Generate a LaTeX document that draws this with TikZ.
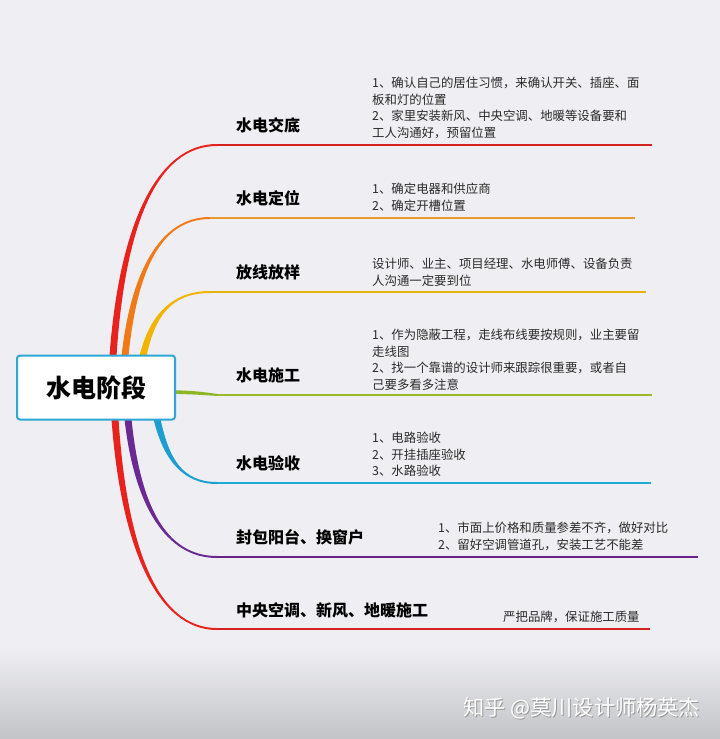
\documentclass[tikz,border=0pt]{standalone}
\usepackage{fontspec}
\setmainfont{Noto Sans CJK SC}
\usetikzlibrary{calc}
\definecolor{bg}{HTML}{EFEFF3}
\definecolor{botgray}{HTML}{C3C4C8}
\definecolor{boxc}{HTML}{2EA6D6}
\definecolor{cred}{HTML}{E8231E}
\definecolor{credl}{HTML}{D42020}
\definecolor{corange}{HTML}{F07A18}
\definecolor{corangel}{HTML}{E89A2A}
\definecolor{cyellow}{HTML}{F2B400}
\definecolor{cyellowl}{HTML}{E6B210}
\definecolor{cgreen}{HTML}{8DB722}
\definecolor{cgreenl}{HTML}{9CB92A}
\definecolor{cblue}{HTML}{1C9FD0}
\definecolor{cbluel}{HTML}{20AAD6}
\definecolor{cpurple}{HTML}{6A2A92}
\definecolor{cpurplel}{HTML}{6A2288}
\definecolor{txt}{HTML}{2A2A2A}
\newcommand\brnch[4]{%
  \fill[#1] let \p1=(#2), \p2=(#3) in
    ({\x1-3.5pt},\y1) .. controls ({\x1+6pt},{\y1+0.62*(\y2-\y1)}) and ({\x1+0.42*(\x2-\x1)},{\y2+(#4)*1pt}) .. (\x2,{\y2+(#4)*1pt})
    -- (\x2,{\y2-(#4)*1pt}) .. controls ({\x1+0.42*(\x2-\x1)},{\y2-(#4)*1pt}) and ({\x1+12pt},{\y1+0.62*(\y2-\y1)}) .. ({\x1+3.5pt},\y1) -- cycle;}
\begin{document}
\begin{tikzpicture}[x=1pt,y=-1pt,
  lbl/.style={anchor=west, inner sep=0pt, font=\fontsize{16}{19}\selectfont\bfseries, text=black},
  note/.style={anchor=north west, inner sep=0pt, align=left, font=\fontsize{12.4}{16.6}\selectfont, text=txt},
  uline/.style={line width=2pt}]
\useasboundingbox (0,0) rectangle (720,739);
\fill[bg] (0,0) rectangle (720,739);
\shade[top color=bg, bottom color=botgray] (0,648) rectangle (720,739);

% branch coordinates
\coordinate (s1) at (113,356); \coordinate (e1) at (217,145); \coordinate (f1) at (652,145);
\coordinate (s2) at (125,356); \coordinate (e2) at (210,218); \coordinate (f2) at (635,218);
\coordinate (s3) at (143,356); \coordinate (e3) at (210,292); \coordinate (f3) at (646,292);
\coordinate (s4) at (174,392); \coordinate (e4) at (218,395); \coordinate (f4) at (652,395);
\coordinate (s5) at (157,419); \coordinate (e5) at (217,483); \coordinate (f5) at (651,483);
\coordinate (s6) at (128,419); \coordinate (e6) at (217,557); \coordinate (f6) at (698,557);
\coordinate (s7) at (115,419); \coordinate (e7) at (217,629); \coordinate (f7) at (650,629);

% branches
\brnch{cred}{s1}{e1}{1}
\draw[uline,credl] (e1) -- (f1);
\brnch{corange}{s2}{e2}{1}
\draw[uline,corangel] (e2) -- (f2);
\brnch{cyellow}{s3}{e3}{1}
\draw[uline,cyellowl] (e3) -- (f3);
\fill[cgreen] ($(s4)+(0,-1.8)$) .. controls (195,391) .. ($(e4)+(0,-1)$) -- ($(e4)+(0,1)$) .. controls (195,394.5) .. ($(s4)+(0,1.8)$) -- cycle;
\draw[uline,cgreenl] (e4) -- (f4);
\brnch{cblue}{s5}{e5}{-1}
\draw[uline,cbluel] (e5) -- (f5);
\brnch{cpurple}{s6}{e6}{-1}
\draw[uline,cpurplel] (e6) -- (f6);
\brnch{cred}{s7}{e7}{-1}
\draw[uline,credl] (e7) -- (f7);

% central node
\node[draw=boxc, line width=2pt, fill=white, rounded corners=3pt,
      minimum width=158pt, minimum height=64pt, inner sep=0pt,
      font=\fontsize{25}{30}\selectfont\bfseries] (ctr) at (96,387.5) {水电阶段};

% labels
\node[lbl] (l1) at (236,125) {水电交底};
\node[lbl] (l2) at (236,198) {水电定位};
\node[lbl] (l3) at (236,272) {放线放样};
\node[lbl] (l4) at (236,375) {水电施工};
\node[lbl] (l5) at (236,463) {水电验收};
\node[lbl] (l6) at (236,537) {封包阳台、换窗户};
\node[lbl] (l7) at (236,610) {中央空调、新风、地暖施工};

% notes
\node[note] (n1) at (372,77) {1、确认自己的居住习惯，来确认开关、插座、面\\板和灯的位置\\2、家里安装新风、中央空调、地暖等设备要和\\工人沟通好，预留位置};
\node[note] (n2) at (372,183) {1、确定电器和供应商\\2、确定开槽位置};
\node[note] (n3) at (372,258) {设计师、业主、项目经理、水电师傅、设备负责\\人沟通一定要到位};
\node[note] (n4) at (372,329) {1、作为隐蔽工程，走线布线要按规则，业主要留\\走线图\\2、找一个靠谱的设计师来跟踪很重要，或者自\\己要多看多注意};
\node[note] (n5) at (372,432) {1、电路验收\\2、开挂插座验收\\3、水路验收};
\node[note] (n6) at (438,522) {1、市面上价格和质量参差不齐，做好对比\\2、留好空调管道孔，安装工艺不能差};
\node[note, anchor=west] (n7) at (503,617) {严把品牌，保证施工质量};

% watermark
\node[anchor=west, inner sep=0pt, font=\fontsize{21.2}{26}\selectfont, text=black!40] (wms) at (464,709) {知乎 @莫川设计师杨英杰};
\node[anchor=west, inner sep=0pt, font=\fontsize{21.2}{26}\selectfont, text=white] (wm) at (463,708) {知乎 @莫川设计师杨英杰};
\end{tikzpicture}
\end{document}
